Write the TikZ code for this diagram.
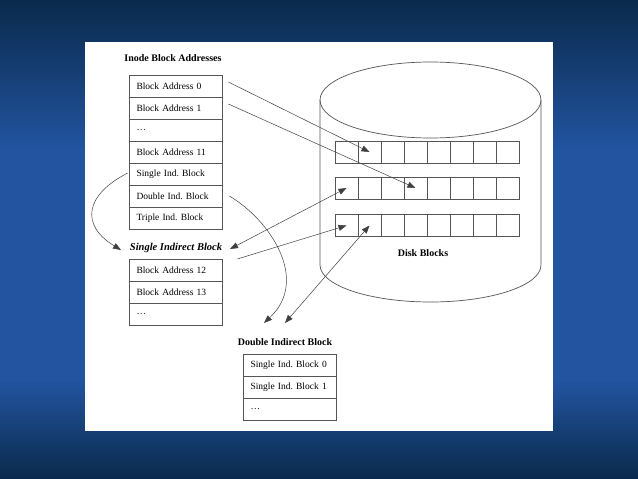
\documentclass[tikz,border=0pt]{standalone}
\usepackage{fontspec}
\setmainfont{Liberation Serif}
\usetikzlibrary{arrows.meta, positioning}
\definecolor{SlideNavy}{HTML}{0A2A4C}
\definecolor{SlideBlue}{HTML}{2254A0}
\definecolor{LineGray}{HTML}{555555}
\frenchspacing

\tikzset{
    cell/.style={draw=LineGray, line width=0.7pt, text width=78pt, align=left,
        inner xsep=7.5pt, minimum height=22pt, font=\fontsize{9.5}{11}\selectfont},
    dcell/.style={draw=LineGray, line width=0.7pt, minimum width=23pt,
        minimum height=22pt, inner sep=0pt},
    title/.style={font=\fontsize{10}{12}\selectfont\bfseries, inner sep=1pt},
    link/.style={draw=black!75, line width=0.5pt, -{Triangle[length=8pt,width=6pt]}},
    dlink/.style={draw=black!75, line width=0.5pt,
        {Triangle[length=8pt,width=6pt]}-{Triangle[length=8pt,width=6pt]}}
}

\begin{document}
\begin{tikzpicture}[x=1pt, y=-1pt]

        % --- 1. Slide background and white panel ---
        \useasboundingbox (0,0) rectangle (638,479);
        \fill[SlideBlue] (0,0) rectangle (638,479);
        \shade[top color=SlideNavy, bottom color=SlideBlue] (0,0) rectangle (638,150);
        \shade[top color=SlideBlue, bottom color=SlideNavy] (0,380) rectangle (638,479);
        \fill[white] (85,42) rectangle (553,431);

        % --- 2. Inode table ---
        \node[title] (inotitle) at (173,58) {Inode Block Addresses};
        \foreach \txt [count=\i from 0] in {Block Address 0, Block Address 1, \ldots,
            Block Address 11, Single Ind. Block, Double Ind. Block, Triple Ind. Block}
            \node[cell] (ino\i) at (175.5, {86+22*\i}) {\txt};

        % --- 3. Single indirect block ---
        \node[title, font=\fontsize{10.5}{12}\selectfont\bfseries\itshape] (sil) at (176,248) {Single Indirect Block};
        \foreach \txt [count=\i from 0] in {Block Address 12, Block Address 13, \ldots}
            \node[cell] (sin\i) at (175.5, {270+22*\i}) {\txt};

        % --- 4. Double indirect block ---
        \node[title] (dbl) at (285,342) {Double Indirect Block};
        \foreach \txt [count=\i from 0] in {Single Ind. Block 0, Single Ind. Block 1, \ldots}
            \node[cell] (dbl\i) at (289.5, {365+22*\i}) {\txt};

        % --- 5. Disk (cylinder) with block rows ---
        \draw[LineGray, line width=0.7pt] (320,100) -- (320,265)
            arc[start angle=180, end angle=0, x radius=110.5, y radius=37] -- (541,100);
        \draw[LineGray, line width=0.7pt] (430.5,100) ellipse [x radius=110.5, y radius=38];
        \foreach \r/\yy in {1/152, 2/188, 3/225.5}
            \foreach \c in {1,...,8}
                \node[dcell] (d\r-\c) at ({346.5+23*(\c-1)}, \yy) {};
        \node[title] (disk) at (423,253) {Disk Blocks};

        % Free ends of the connectors
        \coordinate (sitip) at (121,250);
        \coordinate (sjtip) at (230,249);
        \coordinate (ditip) at (264,323);
        \coordinate (djtip) at (285,323);

        % --- 6. Connectors ---
        \draw[link] ([xshift=6pt, yshift=4pt]ino0.east) -- (d1-2.center);
        \draw[link] ([xshift=6pt, yshift=4pt]ino1.east) -- (d2-4.center);
        \draw[link] ([xshift=-1pt, yshift=1pt]ino4.west) .. controls (85,195) and (80,225) .. (sitip);
        \draw[link] ([xshift=7pt]ino5.east) .. controls (270,220) and (310,280) .. (ditip);
        \draw[dlink] (sjtip) -- (d2-1.center);
        \draw[link] ([xshift=15pt, yshift=11pt]sin0.east) -- (d3-1.center);
        \draw[dlink] (djtip) -- (d3-2.center);

\end{tikzpicture}
\end{document}
